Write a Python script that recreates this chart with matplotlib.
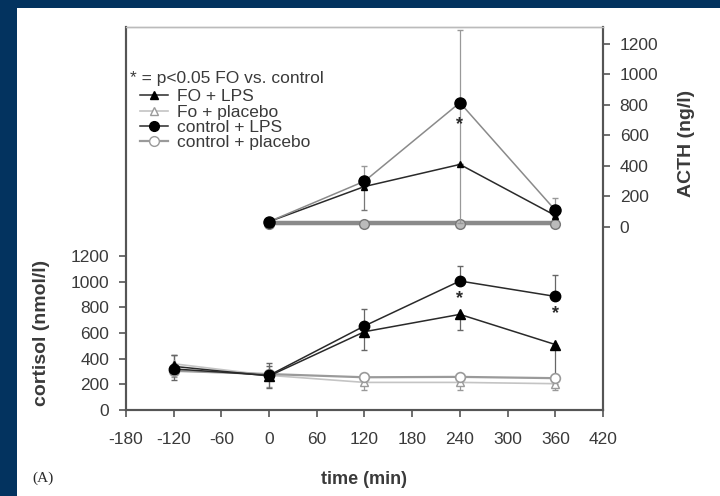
import numpy as np
import matplotlib.pyplot as plt
from matplotlib.patches import Rectangle

plt.rcParams['font.family'] = ['Liberation Sans', 'DejaVu Sans']
plt.rcParams['axes.unicode_minus'] = False

# time points (min)
t_cort = [-120, 0, 120, 240, 360]
t_acth = [0, 120, 240, 360]

# cortisol (nmol/l), left axis
cort_fo_lps = [340, 265, 610, 745, 510]
cort_fo_lps_lo = [110, 90, 140, 120, 260]
cort_fo_lps_hi = [90, 80, 0, 0, 0]
cort_fo_plac = [360, 270, 215, 215, 205]
cort_fo_plac_lo = [100, 90, 60, 60, 50]
cort_ctrl_lps = [320, 270, 655, 1005, 885]
cort_ctrl_lps_hi = [110, 95, 130, 115, 170]
cort_ctrl_plac = [305, 280, 255, 258, 248]

# ACTH (ng/l), right axis
acth_fo_lps = [35, 265, 410, 75]
acth_fo_lps_lo = [0, 155, 0, 0]
acth_fo_plac = [25, 25, 25, 25]
acth_ctrl_lps = [35, 300, 815, 110]
acth_ctrl_lps_lo = [0, 0, 790, 0]
acth_ctrl_lps_hi = [0, 100, 475, 80]
acth_ctrl_plac = [20, 20, 20, 20]

# significance marks
star_cort_t = [240, 360]
star_cort_y = [865, 755]
star_acth_t = [240]
star_acth_y = [670]

navy = '#03335f'
ink = '#3a3a3a'
dark = '#2a2a2a'
grey = '#9a9a9a'
light = '#c4c4c4'

fig = plt.figure(figsize=(7.2, 4.96), dpi=100)
fig.patch.set_facecolor(navy)
fig.patches.append(Rectangle((17 / 720, 0), 1, 1 - 8 / 496, transform=fig.transFigure,
                             facecolor='white', edgecolor='none', zorder=-10))

ax = fig.add_axes([126 / 720, 1 - 410 / 496, (603 - 126) / 720, (410 - 27) / 496])
ax.set_facecolor('white')
ax2 = ax.twinx()

# cortisol
ax.errorbar(t_cort, cort_fo_plac, yerr=[cort_fo_plac_lo, [0] * 5], color=light, lw=1.2,
            marker='^', ms=6, mfc='white', mec=grey, ecolor=grey, elinewidth=0.9, capsize=2)
ax.errorbar(t_cort, cort_ctrl_plac, color=grey, lw=1.6,
            marker='o', ms=7, mfc='white', mec=grey, mew=1.2)
ax.errorbar(t_cort, cort_fo_lps, yerr=[cort_fo_lps_lo, cort_fo_lps_hi], color=dark, lw=1.1,
            marker='^', ms=7, mfc='black', mec='black', ecolor='#666666', elinewidth=0.9, capsize=2)
ax.errorbar(t_cort, cort_ctrl_lps, yerr=[[0] * 5, cort_ctrl_lps_hi], color=dark, lw=1.1,
            marker='o', ms=7.5, mfc='black', mec='black', ecolor='#666666', elinewidth=0.9, capsize=2)
for tx, ty in zip(star_cort_t, star_cort_y):
    ax.text(tx, ty, '*', ha='center', va='center', fontsize=13, fontweight='bold', color=dark)

# ACTH
ax2.plot(t_acth, acth_fo_plac, color='#8a8a8a', lw=3.2, marker='^', ms=6, mfc='white', mec=grey)
ax2.plot(t_acth, acth_ctrl_plac, color='#8a8a8a', lw=1.5, marker='o', ms=7, mfc='#bbbbbb', mec='#777777')
ax2.errorbar(t_acth, acth_fo_lps, yerr=[acth_fo_lps_lo, [0] * 4], color=dark, lw=1.1,
             marker='^', ms=5, mfc='black', mec='black', ecolor='#777777', elinewidth=0.9, capsize=2)
ax2.errorbar(t_acth, acth_ctrl_lps, yerr=[acth_ctrl_lps_lo, acth_ctrl_lps_hi], color='#8a8a8a', lw=1.1,
             marker='o', ms=8, mfc='black', mec='black', ecolor='#999999', elinewidth=0.9, capsize=2)
for tx, ty in zip(star_acth_t, star_acth_y):
    ax2.text(tx, ty, '*', ha='center', va='center', fontsize=13, fontweight='bold', color=dark)

ax.set_xlim(-180, 420)
ax.set_ylim(0, 2984)
ax2.set_ylim(-1200, 1311)
ax.set_xticks(np.arange(-180, 421, 60))
ax.set_yticks(np.arange(0, 1201, 200))
ax2.set_yticks(np.arange(0, 1201, 200))

for a in (ax, ax2):
    a.tick_params(direction='out', length=5, width=1.2, colors='#555555',
                  labelcolor=ink, labelsize=12.5, pad=7)
    for s in ('left', 'right', 'bottom'):
        a.spines[s].set_color('#555555')
        a.spines[s].set_linewidth(1.5)
    a.spines['top'].set_color('#bbbbbb')
    a.spines['top'].set_linewidth(1.0)
ax.tick_params(axis='x', pad=11)

ax.set_xlabel('time (min)', fontsize=13, fontweight='bold', color=ink, labelpad=17)
ax.set_ylabel('cortisol (nmol/l)', fontsize=14, fontweight='bold', color=ink)
ax.yaxis.set_label_coords(-0.159, 0.20)
ax2.set_ylabel('ACTH (ng/l)', fontsize=14, fontweight='bold', color=ink, rotation=90)
ax2.yaxis.set_label_coords(1.157, 0.697)

# legend
ax.text(0.008, 0.866, '* = p<0.05 FO vs. control', transform=ax.transAxes,
        fontsize=12.5, color=ink, va='center')
h1, = ax.plot([], [], color=dark, lw=1.1, marker='^', ms=6, mfc='black', mec='black')
h2, = ax.plot([], [], color=light, lw=1.2, marker='^', ms=6, mfc='white', mec=grey)
h3, = ax.plot([], [], color=dark, lw=1.1, marker='o', ms=7, mfc='black', mec='black')
h4, = ax.plot([], [], color=grey, lw=1.6, marker='o', ms=7, mfc='white', mec=grey)
leg = ax.legend([h1, h2, h3, h4], ['FO + LPS', 'Fo + placebo', 'control + LPS', 'control + placebo'],
                loc='upper left', bbox_to_anchor=(0.012, 0.86), frameon=False, fontsize=12.5,
                handlelength=1.6, handletextpad=0.5, labelspacing=0.0, borderpad=0.2, borderaxespad=0.3)
for txt in leg.get_texts():
    txt.set_color(ink)

fig.text(32 / 720, 1 - 478 / 496, '(A)', fontsize=11, family='Liberation Serif', color=dark,
         ha='left', va='center')

fig.savefig('out.png', dpi=100, facecolor=fig.get_facecolor())
